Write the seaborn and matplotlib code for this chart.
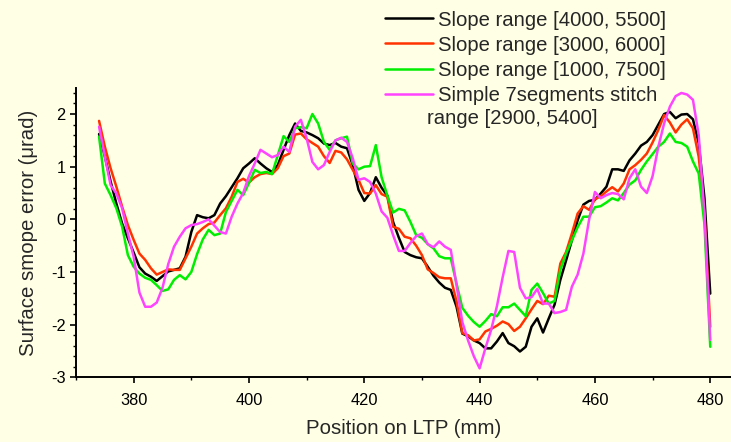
import numpy as np
import pandas as pd
import matplotlib
matplotlib.use("Agg")
import matplotlib.pyplot as plt
from matplotlib.ticker import MultipleLocator
import seaborn as sns

# Position along the LTP (mm), one sample per millimetre
position = list(range(374, 481))

slope_4000_5500 = [
    1.62, 1.20, 0.72, 0.30, -0.08, -0.36, -0.63, -0.91, -1.03, -1.09,
    -1.17, -1.08, -0.99, -0.96, -0.93, -0.71, -0.24, 0.08, 0.04, 0.02,
    0.08, 0.30, 0.44, 0.61, 0.78, 0.97, 1.06, 1.16, 1.06, 0.97,
    0.90, 1.03, 1.32, 1.60, 1.82, 1.68, 1.65, 1.60, 1.54, 1.44,
    1.41, 1.45, 1.38, 1.35, 1.03, 0.56, 0.35, 0.50, 0.80, 0.60,
    0.45, -0.05, -0.35, -0.62, -0.68, -0.72, -0.74, -0.90, -1.07, -1.20,
    -1.30, -1.34, -1.66, -2.17, -2.22, -2.30, -2.35, -2.45, -2.45, -2.32,
    -2.16, -2.35, -2.41, -2.51, -2.42, -2.04, -1.88, -2.15, -1.88, -1.62,
    -1.15, -0.78, -0.40, -0.02, 0.28, 0.35, 0.37, 0.49, 0.62, 0.95,
    0.95, 0.92, 1.12, 1.25, 1.40, 1.47, 1.60, 1.80, 2.00, 2.04,
    1.92, 1.99, 2.00, 1.90, 1.45, 0.40, -1.41,
]

slope_3000_6000 = [
    1.87, 1.38, 0.97, 0.62, 0.24, -0.11, -0.39, -0.65, -0.77, -0.93,
    -1.05, -1.00, -0.95, -0.96, -0.96, -0.74, -0.52, -0.27, -0.17, -0.09,
    -0.06, 0.08, 0.21, 0.43, 0.71, 0.77, 0.70, 0.80, 0.86, 0.88,
    0.86, 0.97, 1.20, 1.25, 1.61, 1.63, 1.52, 1.45, 1.38, 1.20,
    1.07, 1.30, 1.27, 1.14, 0.94, 0.75, 0.50, 0.49, 0.65, 0.48,
    0.43, -0.14, -0.18, -0.33, -0.36, -0.50, -0.68, -0.95, -1.02, -1.10,
    -1.12, -1.12, -1.56, -2.16, -2.20, -2.30, -2.28, -2.13, -2.08, -2.02,
    -1.94, -1.99, -2.12, -2.04, -1.88, -1.71, -1.55, -1.61, -1.45, -1.47,
    -0.84, -0.62, -0.27, 0.11, 0.25, 0.18, 0.38, 0.44, 0.53, 0.61,
    0.53, 0.68, 0.95, 1.03, 1.13, 1.25, 1.46, 1.70, 1.98, 1.84,
    1.65, 1.80, 1.90, 1.73, 1.19, 0.11, -2.04,
]

slope_1000_7500 = [
    1.57, 0.68, 0.46, 0.21, -0.14, -0.68, -0.90, -1.03, -1.11, -1.15,
    -1.25, -1.36, -1.33, -1.15, -1.06, -1.14, -1.00, -0.66, -0.38, -0.20,
    -0.30, -0.27, 0.14, 0.35, 0.56, 0.46, 0.69, 0.94, 0.88, 0.90,
    0.86, 1.22, 1.58, 1.47, 1.73, 1.75, 1.73, 2.00, 1.82, 1.47,
    1.32, 1.50, 1.54, 1.57, 1.06, 0.95, 1.00, 1.01, 1.41, 0.80,
    0.45, 0.13, 0.20, 0.17, -0.05, -0.30, -0.35, -0.47, -0.55, -0.70,
    -0.74, -0.74, -1.22, -1.68, -1.83, -1.95, -2.04, -1.93, -1.80, -1.84,
    -1.67, -1.67, -1.60, -1.72, -1.84, -1.34, -1.22, -1.40, -1.60, -1.55,
    -0.96, -0.65, -0.40, -0.15, 0.05, 0.05, 0.23, 0.25, 0.32, 0.40,
    0.36, 0.50, 0.66, 0.74, 0.94, 1.10, 1.24, 1.38, 1.47, 1.63,
    1.47, 1.45, 1.38, 1.10, 0.87, -0.10, -2.42,
]

stitch_7seg = [
    1.76, 1.19, 0.65, 0.49, 0.21, -0.27, -0.71, -1.39, -1.66, -1.66,
    -1.58, -1.30, -0.85, -0.52, -0.33, -0.17, -0.11, -0.09, -0.05, 0.00,
    -0.12, -0.24, -0.27, 0.05, 0.30, 0.50, 0.82, 1.06, 1.32, 1.25,
    1.18, 1.22, 1.38, 1.28, 1.76, 1.89, 1.54, 1.09, 0.95, 1.03,
    1.28, 1.50, 1.55, 1.47, 1.16, 0.75, 0.78, 0.71, 0.49, 0.15,
    0.03, -0.30, -0.60, -0.60, -0.45, -0.32, -0.27, -0.47, -0.53, -0.42,
    -0.52, -0.58, -1.25, -1.95, -2.30, -2.60, -2.83, -2.45, -2.10, -1.65,
    -1.10, -0.60, -0.62, -1.30, -1.50, -1.48, -1.32, -1.60, -1.60, -1.78,
    -1.76, -1.72, -1.28, -1.05, -0.65, 0.00, 0.52, 0.40, 0.46, 0.50,
    0.48, 0.38, 0.78, 0.95, 0.62, 0.50, 0.82, 1.38, 1.82, 2.14,
    2.34, 2.40, 2.37, 2.27, 1.60, 0.10, -2.29,
]

series_labels = [
    "Slope range [4000, 5500]",
    "Slope range [3000, 6000]",
    "Slope range [1000, 7500]",
    "Simple 7segments stitch",
]
stitch_label_tail = "range [2900, 5400]"
series_values = [slope_4000_5500, slope_3000_6000, slope_1000_7500, stitch_7seg]
series_colors = ["#000000", "#FF3300", "#00EE00", "#FF44FF"]

x_label = "Position on LTP (mm)"
y_label = "Surface smope error (\u03bcrad)"

bg = "#FFFFE6"

sns.set_style("ticks")
plt.rcParams["font.family"] = ["Liberation Sans", "DejaVu Sans"]
plt.rcParams["axes.unicode_minus"] = False

fig = plt.figure(figsize=(7.31, 4.42), dpi=100, facecolor=bg)
ax = fig.add_axes([76 / 731, 1 - 377.3 / 442, 1 - 76 / 731, (377.3 - 87.7) / 442])
ax.set_facecolor(bg)

frames = []
for label, vals in zip(series_labels, series_values):
    frames.append(pd.DataFrame({"pos": position, "err": vals, "series": label}))
df = pd.concat(frames, ignore_index=True)

sns.lineplot(data=df, x="pos", y="err", hue="series", hue_order=series_labels,
             palette=series_colors, linewidth=1.8, ax=ax, legend=False,
             estimator=None, sort=False)

ax.set_xlim(370, 483.6)
ax.set_ylim(-3, 2.5)
ax.xaxis.set_major_locator(MultipleLocator(20))
ax.xaxis.set_minor_locator(MultipleLocator(10))
ax.yaxis.set_major_locator(MultipleLocator(1))
ax.yaxis.set_minor_locator(MultipleLocator(0.2))

for side in ("top", "right"):
    ax.spines[side].set_visible(False)
for side in ("left", "bottom"):
    ax.spines[side].set_linewidth(1.4)
    ax.spines[side].set_color("black")

ax.tick_params(which="major", direction="out", length=4.5, width=1.2,
               labelsize=11.8, colors="black")
ax.tick_params(which="minor", direction="out", length=2.5, width=1.0, colors="black")
ax.tick_params(axis="x", which="major", pad=6.5)
ax.tick_params(axis="y", which="major", pad=3)

ax.set_xlabel(x_label, fontsize=14.7, labelpad=8)
ax.set_ylabel(y_label, fontsize=14.7, labelpad=9)

handles = [plt.Line2D([], [], color=c, linewidth=1.8) for c in series_colors]
leg = fig.legend(handles, series_labels, loc="upper left",
                 bbox_to_anchor=(385 / 731, 1 - 10.5 / 442),
                 frameon=False, fontsize=14.6, borderpad=0, borderaxespad=0,
                 handlelength=2.35, handletextpad=0.25, labelspacing=0.3)

# Second line of the stitch entry, set slightly left of the legend text column
fig.text(427 / 731, 1 - 119 / 442, stitch_label_tail, fontsize=14.6,
         ha="left", va="center")

fig.savefig("out.png", dpi=100, facecolor=bg)
